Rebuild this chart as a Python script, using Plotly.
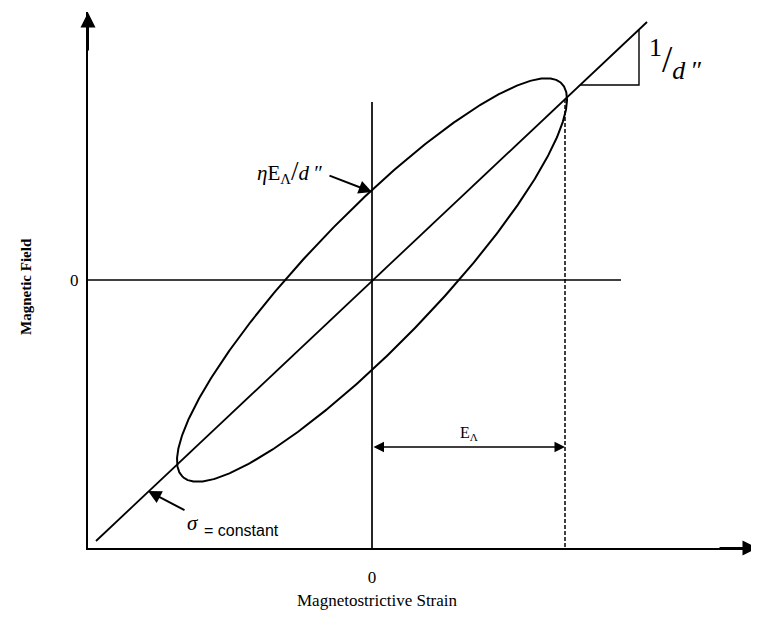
import numpy as np
import plotly.graph_objects as go

# ---- values (strain units on x, field units on y; origin = the "0" ticks)
x_range = [-284, 386]
y_range = [-268, 268]
tick_vals = [0]
tick_text = ["0"]

# hysteresis loop: strain intercept, field intercept (eta*E/d''), strain amplitude E_Lambda
loop_strain_intercept = 87
loop_field_intercept = 90
strain_amplitude = 195

# sigma = constant line (slope 1/d'')
diag_strain = [-276, 275]
diag_field = [-261, 258]

# zero reference lines
hzero_strain = [-284, 249]
hzero_field = [0, 0]
vzero_strain = [0, 0]
vzero_field = [178, -268]

# dashed line at E_Lambda
dash_strain = [193, 193]
dash_field = [181, -268]

# E_Lambda dimension arrow
ea_strain = [0, 193]
ea_field = [-167, -167]

# slope triangle
tri_strain = [267, 267, 208]
tri_field = [251, 195, 195]

# annotation anchors
eta_arrow_head = (0, 88)
eta_arrow_tail = (-44, 105)
sigma_arrow_head = (-224, -211)
sigma_arrow_tail = (-186, -231)

BLACK = "black"
SERIF = "Liberation Serif"
SANS = "Liberation Sans"

# ---- loop from its intercepts and amplitude
A = 1.0 / loop_strain_intercept ** 2
C = 1.0 / loop_field_intercept ** 2
B = -2.0 * np.sqrt(C * (A - 1.0 / strain_amplitude ** 2))
M = np.array([[A, B / 2], [B / 2, C]])
w, V = np.linalg.eigh(M)
t = np.linspace(0, 2 * np.pi, 721)
pts = V @ (np.diag(1 / np.sqrt(w)) @ np.vstack([np.cos(t), np.sin(t)]))
loop_x, loop_y = pts[0], pts[1]

fig = go.Figure()


def line(x, y, width=1.6, dash=None):
    fig.add_trace(go.Scatter(x=x, y=y, mode="lines",
                             line=dict(color=BLACK, width=width, dash=dash),
                             hoverinfo="skip", showlegend=False))


line(hzero_strain, hzero_field, 1.7)
line(vzero_strain, vzero_field, 1.7)
line(diag_strain, diag_field, 1.8)
line(list(loop_x), list(loop_y), 2.0)
line(dash_strain, dash_field, 1.5, dash="4px,2px")
line(tri_strain, tri_field, 1.4)

ann = []
# axis arrowheads
ann.append(dict(x=x_range[1] - 0.5, y=y_range[0], ax=x_range[1] - 40, ay=y_range[0],
                xref="x", yref="y", axref="x", ayref="y", text="", showarrow=True,
                arrowhead=2, arrowwidth=2, arrowsize=1.5, arrowcolor=BLACK))
ann.append(dict(x=x_range[0], y=y_range[1] - 0.5, ax=x_range[0], ay=y_range[1] - 40,
                xref="x", yref="y", axref="x", ayref="y", text="", showarrow=True,
                arrowhead=2, arrowwidth=2, arrowsize=1.5, arrowcolor=BLACK))
# E_Lambda double arrow
ann.append(dict(x=ea_strain[1], y=ea_field[1], ax=ea_strain[0], ay=ea_field[0],
                xref="x", yref="y", axref="x", ayref="y", text="", showarrow=True,
                arrowhead=2, startarrowhead=2, arrowside="end+start",
                arrowwidth=1.5, arrowsize=1.4, startarrowsize=1.4, arrowcolor=BLACK))
ann.append(dict(x=(ea_strain[0] + ea_strain[1]) / 2, y=ea_field[0] + 14, xref="x", yref="y",
                text="E<sub>Λ</sub>", showarrow=False,
                font=dict(family=SERIF, size=16, color=BLACK)))
# eta E / d'' pointer
ann.append(dict(x=eta_arrow_head[0], y=eta_arrow_head[1], ax=eta_arrow_tail[0], ay=eta_arrow_tail[1],
                xref="x", yref="y", axref="x", ayref="y", text="", showarrow=True,
                arrowhead=2, arrowwidth=1.9, arrowsize=1.4, arrowcolor=BLACK))
ann.append(dict(x=-82, y=109, xref="x", yref="y",
                text="<i>η</i>E<sub>Λ</sub><span style='font-size:27px'>/</span><i>d</i> ″",
                showarrow=False, font=dict(family=SERIF, size=21, color=BLACK)))
# sigma = constant pointer
ann.append(dict(x=sigma_arrow_head[0], y=sigma_arrow_head[1], ax=sigma_arrow_tail[0], ay=sigma_arrow_tail[1],
                xref="x", yref="y", axref="x", ayref="y", text="", showarrow=True,
                arrowhead=2, arrowwidth=1.9, arrowsize=1.4, arrowcolor=BLACK))
ann.append(dict(x=-179, y=-243, xref="x", yref="y", text="<i>σ</i>", showarrow=False,
                font=dict(family=SERIF, size=21, color=BLACK)))
ann.append(dict(x=-131, y=-250, xref="x", yref="y", text="= constant", showarrow=False,
                font=dict(family=SANS, size=16, color=BLACK)))
# 1 / d''  (slope label)
ann.append(dict(x=303, y=221, xref="x", yref="y",
                text="<sup>1</sup>/<sub><i>d</i> ″</sub>", showarrow=False,
                font=dict(family=SERIF, size=37, color=BLACK)))
# axis titles
ann.append(dict(x=(377 - 88) / 670, y=(548 - 612) / 536, xref="paper", yref="paper",
                text="Magnetostrictive Strain", showarrow=False,
                font=dict(family=SERIF, size=17, color=BLACK)))
ann.append(dict(x=(16 - 88) / 670, y=(548 - 287) / 536, xref="paper", yref="paper",
                text="<b>Magnetic Field</b>", textangle=-90, showarrow=False,
                font=dict(family=SERIF, size=15, color=BLACK)))

fig.update_layout(
    width=751, height=613, autosize=False,
    margin=dict(l=80, r=1, t=4, b=73),
    paper_bgcolor="white", plot_bgcolor="white",
    annotations=ann,
    xaxis=dict(range=x_range, showgrid=False, zeroline=False, showline=True,
               linecolor=BLACK, linewidth=2, tickvals=tick_vals, ticktext=tick_text,
               ticks="", ticklabelstandoff=13,
               tickfont=dict(family=SERIF, size=17, color=BLACK), fixedrange=True),
    yaxis=dict(range=y_range, showgrid=False, zeroline=False, showline=True,
               linecolor=BLACK, linewidth=2, tickvals=tick_vals, ticktext=tick_text,
               ticks="", ticklabelstandoff=4,
               tickfont=dict(family=SERIF, size=17, color=BLACK), fixedrange=True),
)

fig.write_html("out.html")
